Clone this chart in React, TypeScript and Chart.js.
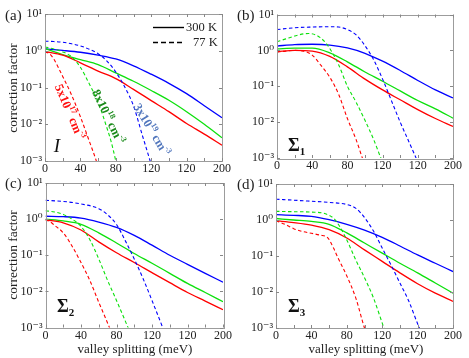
import React, { useEffect, useRef } from 'react';
import { Chart, registerables } from 'chart.js';

Chart.register(...registerables);

const W = 469;
const H = 358;
const FONT = "'Liberation Serif', 'DejaVu Serif', serif";

// ---------- axis ticks ----------
const xTickValues = [0, 40, 80, 120, 160, 200];
const xTickLabels = ['0', '40', '80', '120', '120', '200'];
const xMinorTicks = [0, 20, 40, 60, 80, 100, 120, 140, 160, 180, 200];
const yTickValues = [1e-3, 1e-2, 1e-1, 1, 10];
const yTickLabels = ['10\u207B\u00B3', '10\u207B\u00B2', '10\u207B\u00B9', '10\u2070', '10\u00B9'];

// ---------- data ----------
const solidX = [0, 20, 40, 60, 80, 100, 120, 140, 160, 180, 200];

// (a) I
const aSolidRed = [0.955, 0.76, 0.47, 0.28, 0.174, 0.089, 0.044, 0.022, 0.0105, 0.0054, 0.0027];
const aSolidGreen = [1.15, 0.79, 0.575, 0.42, 0.25, 0.148, 0.083, 0.045, 0.022, 0.01, 0.0043];
const aSolidBlue = [1.12, 1.02, 0.91, 0.76, 0.6, 0.39, 0.23, 0.13, 0.068, 0.032, 0.015];
const aDashRedX = [0, 5, 10, 20, 30, 40, 50, 58, 63];
const aDashRed = [0.93, 0.83, 0.59, 0.2, 0.063, 0.016, 0.0035, 0.001, 0.0004];
const aDashGreenX = [0, 10, 20, 30, 40, 50, 60, 70, 75, 80, 85];
const aDashGreen = [1.26, 1.12, 0.93, 0.69, 0.355, 0.126, 0.04, 0.0079, 0.0032, 0.001, 0.0003];
const aDashBlueX = [0, 10, 20, 30, 40, 50, 60, 70, 80, 90, 100, 110, 120, 125];
const aDashBlue = [1.82, 1.78, 1.7, 1.55, 1.35, 1.1, 0.83, 0.525, 0.263, 0.105, 0.0316, 0.005, 0.0008, 0.0003];

// (b) Σ1
const bSolidRed = [0.93, 1.0, 0.955, 0.68, 0.347, 0.158, 0.079, 0.042, 0.0224, 0.0126, 0.0076];
const bSolidGreen = [1.1, 1.15, 1.15, 0.85, 0.48, 0.25, 0.138, 0.074, 0.04, 0.0234, 0.0129];
const bSolidBlue = [1.32, 1.45, 1.48, 1.41, 1.17, 0.83, 0.5, 0.275, 0.145, 0.079, 0.047];
const bDashRedX = [0, 10, 20, 30, 40, 50, 60, 70, 80, 90, 97, 103];
const bDashRed = [0.89, 0.955, 1.0, 0.955, 0.74, 0.38, 0.178, 0.06, 0.0126, 0.0032, 0.001, 0.0004];
const bDashGreenX = [0, 10, 20, 30, 36, 45, 55, 63, 70, 80, 90, 100, 110, 118, 125];
const bDashGreen = [1.74, 2.09, 2.51, 2.88, 2.95, 2.63, 1.66, 0.85, 0.4, 0.1, 0.0355, 0.0112, 0.0032, 0.001, 0.0004];
const bDashBlueX = [0, 20, 40, 60, 70, 80, 90, 100, 110, 120, 130, 140, 150, 158, 165];
const bDashBlue = [3.8, 4.27, 4.47, 4.57, 4.47, 3.8, 2.69, 1.35, 0.537, 0.158, 0.0398, 0.01, 0.0028, 0.001, 0.0004];

// (c) Σ2
const cSolidRed = [0.955, 0.79, 0.5, 0.234, 0.117, 0.063, 0.033, 0.0174, 0.0093, 0.0054, 0.0031];
const cSolidGreen = [1.0, 0.89, 0.72, 0.417, 0.219, 0.112, 0.06, 0.0316, 0.0166, 0.0093, 0.0052];
const cSolidBlue = [1.2, 1.17, 1.07, 0.83, 0.59, 0.355, 0.19, 0.1, 0.056, 0.0316, 0.018];
const cDashRedX = [0, 5, 10, 20, 30, 40, 50, 60, 72, 78];
const cDashRed = [0.955, 0.85, 0.68, 0.417, 0.178, 0.063, 0.02, 0.005, 0.001, 0.0004];
const cDashGreenX = [0, 10, 20, 30, 40, 50, 60, 70, 80, 93, 100];
const cDashGreen = [1.7, 1.58, 1.35, 1.0, 0.63, 0.27, 0.079, 0.02, 0.0056, 0.001, 0.0004];
const cDashBlueX = [0, 20, 40, 60, 70, 80, 90, 100, 110, 120, 132, 140];
const cDashBlue = [3.31, 3.09, 2.63, 1.95, 1.32, 0.71, 0.25, 0.079, 0.0224, 0.0056, 0.001, 0.0003];

// (d) Σ3
const dSolidRed = [0.955, 0.85, 0.72, 0.537, 0.316, 0.148, 0.071, 0.034, 0.017, 0.0093, 0.0055];
const dSolidGreen = [1.1, 1.0, 0.91, 0.76, 0.437, 0.229, 0.12, 0.063, 0.034, 0.0178, 0.0093];
const dSolidBlue = [1.41, 1.35, 1.26, 1.02, 0.76, 0.525, 0.33, 0.19, 0.107, 0.063, 0.037];
const dDashRedX = [0, 10, 20, 30, 40, 50, 58, 65, 70, 80, 90, 100, 106];
const dDashRed = [0.955, 0.76, 0.575, 0.48, 0.427, 0.38, 0.33, 0.166, 0.089, 0.028, 0.007, 0.001, 0.0004];
const dDashGreenX = [0, 20, 40, 55, 65, 72, 80, 90, 100, 110, 122, 130];
const dDashGreen = [1.74, 1.7, 1.66, 1.51, 1.12, 0.66, 0.28, 0.079, 0.025, 0.007, 0.001, 0.0003];
const dDashBlueX = [0, 20, 40, 60, 80, 90, 100, 110, 120, 130, 140, 150, 162, 170];
const dDashBlue = [3.8, 3.55, 3.31, 3.09, 2.69, 2.14, 1.17, 0.5, 0.166, 0.056, 0.0178, 0.0056, 0.001, 0.0004];

// ---------- styling ----------
const RED = '#ff0000';
const GREEN = '#0ce00c';
const BLUE = '#0000ff';
const AXIS_COLOR = '#9c9c9c';
const TEXT_COLOR = '#222222';

type Seg = { t: string; sup?: boolean; sub?: boolean; size?: number };
type TextItem = {
  segs: Seg[];
  x: number;
  y: number;
  angle?: number;
  color?: string;
  size?: number;
  weight?: string;
  style?: string;
  align?: 'left' | 'center' | 'right';
};

function drawRich(ctx: CanvasRenderingContext2D, item: TextItem) {
  const size = item.size ?? 12;
  const weight = item.weight ?? 'normal';
  const style = item.style ?? 'normal';
  const align = item.align ?? 'center';
  const small = Math.round(size * 0.66);
  ctx.save();
  ctx.translate(item.x, item.y);
  ctx.rotate(((item.angle ?? 0) * Math.PI) / 180);
  ctx.fillStyle = item.color ?? TEXT_COLOR;
  ctx.textBaseline = 'middle';
  ctx.textAlign = 'left';
  const fontFor = (s: Seg) => `${style} ${weight} ${s.size ?? (s.sup || s.sub ? small : size)}px ${FONT}`;
  const widths = item.segs.map((s) => {
    ctx.font = fontFor(s);
    return ctx.measureText(s.t).width;
  });
  const total = widths.reduce((a, b) => a + b, 0);
  let cx = align === 'center' ? -total / 2 : align === 'right' ? -total : 0;
  item.segs.forEach((s, i) => {
    ctx.font = fontFor(s);
    const dy = s.sup ? -size * 0.35 : s.sub ? size * 0.32 : 0;
    ctx.fillText(s.t, cx, dy);
    cx += widths[i];
  });
  ctx.restore();
}

type Series = { xs: number[]; ys: number[]; color: string; dashed: boolean };
type PanelCfg = {
  area: { left: number; right: number; top: number; bottom: number };
  series: Series[];
  texts: TextItem[];
  legend?: boolean;
};

const Y_AXIS_W = 30;
const X_AXIS_H = 16;

const ylabel = (y: number): TextItem => ({ segs: [{ t: 'correction factor' }], x: 13.5, y, angle: -90, size: 13.5 });
const xlabel = (x: number): TextItem => ({ segs: [{ t: 'valley splitting (meV)' }], x, y: 350, size: 13 });
const sigma = (n: string, x: number, y: number): TextItem => ({
  segs: [{ t: '\u03A3' }, { t: n, sub: true, size: 11 }],
  x,
  y,
  size: 18,
  weight: 'bold',
  align: 'left',
  color: '#111',
});
const panelLabel = (t: string, x: number, y: number): TextItem => ({ segs: [{ t }], x, y, size: 15, align: 'left' });

const mk = (xs: number[], ys: number[], color: string, dashed: boolean): Series => ({ xs, ys, color, dashed });

const panels: PanelCfg[] = [
  {
    area: { left: 45, right: 222, top: 14, bottom: 161 },
    series: [
      mk(aDashRedX, aDashRed, RED, true),
      mk(aDashGreenX, aDashGreen, GREEN, true),
      mk(aDashBlueX, aDashBlue, BLUE, true),
      mk(solidX, aSolidRed, RED, false),
      mk(solidX, aSolidGreen, GREEN, false),
      mk(solidX, aSolidBlue, BLUE, false),
    ],
    legend: true,
    texts: [
      panelLabel('(a)', 5, 16),
      ylabel(88),
      { segs: [{ t: 'I' }], x: 57, y: 147, size: 19, style: 'italic', color: '#111' },
      {
        segs: [{ t: '5x10' }, { t: '17', sup: true }, { t: ' cm' }, { t: '-3', sup: true }],
        x: 69,
        y: 112,
        angle: 67,
        size: 12.5,
        weight: 'bold',
        color: '#ff1010',
      },
      {
        segs: [{ t: '8x10' }, { t: '18', sup: true }, { t: ' cm' }, { t: '-3', sup: true }],
        x: 107.5,
        y: 117,
        angle: 64,
        size: 12.5,
        weight: 'bold',
        color: '#1a8a1a',
      },
      {
        segs: [{ t: '3x10' }, { t: '19', sup: true }, { t: ' cm' }, { t: '-3', sup: true }],
        x: 151,
        y: 130,
        angle: 59,
        size: 12.5,
        weight: 'bold',
        color: '#5277bd',
      },
    ],
  },
  {
    area: { left: 277, right: 453, top: 14.5, bottom: 158 },
    series: [
      mk(bDashRedX, bDashRed, RED, true),
      mk(bDashGreenX, bDashGreen, GREEN, true),
      mk(bDashBlueX, bDashBlue, BLUE, true),
      mk(solidX, bSolidRed, RED, false),
      mk(solidX, bSolidGreen, GREEN, false),
      mk(solidX, bSolidBlue, BLUE, false),
    ],
    texts: [panelLabel('(b)', 237, 16), sigma('1', 288, 146)],
  },
  {
    area: { left: 45.5, right: 223, top: 183, bottom: 327.5 },
    series: [
      mk(cDashRedX, cDashRed, RED, true),
      mk(cDashGreenX, cDashGreen, GREEN, true),
      mk(cDashBlueX, cDashBlue, BLUE, true),
      mk(solidX, cSolidRed, RED, false),
      mk(solidX, cSolidGreen, GREEN, false),
      mk(solidX, cSolidBlue, BLUE, false),
    ],
    texts: [panelLabel('(c)', 5, 184), ylabel(255), sigma('2', 57, 307), xlabel(135)],
  },
  {
    area: { left: 276, right: 453, top: 184, bottom: 328 },
    series: [
      mk(dDashRedX, dDashRed, RED, true),
      mk(dDashGreenX, dDashGreen, GREEN, true),
      mk(dDashBlueX, dDashBlue, BLUE, true),
      mk(solidX, dSolidRed, RED, false),
      mk(solidX, dSolidGreen, GREEN, false),
      mk(solidX, dSolidBlue, BLUE, false),
    ],
    texts: [panelLabel('(d)', 237, 185), sigma('3', 288, 307), xlabel(366)],
  },
];

function makeDecoPlugin(cfg: PanelCfg) {
  return {
    id: 'deco',
    afterDatasetsDraw(chart: any) {
      const ctx: CanvasRenderingContext2D = chart.ctx;
      const { left, right, top, bottom } = chart.chartArea;
      const xs = chart.scales.x;
      const ys = chart.scales.y;
      ctx.save();
      ctx.strokeStyle = AXIS_COLOR;
      ctx.lineWidth = 1;
      ctx.strokeRect(Math.round(left) + 0.5, Math.round(top) + 0.5, Math.round(right - left), Math.round(bottom - top));
      ctx.strokeStyle = '#888';
      ctx.beginPath();
      xMinorTicks.forEach((v) => {
        const px = Math.round(xs.getPixelForValue(v)) + 0.5;
        ctx.moveTo(px, bottom);
        ctx.lineTo(px, bottom - 3);
        ctx.moveTo(px, top);
        ctx.lineTo(px, top + 3);
      });
      yTickValues.forEach((v) => {
        const py = Math.round(ys.getPixelForValue(v)) + 0.5;
        ctx.moveTo(left, py);
        ctx.lineTo(left + 3, py);
        ctx.moveTo(right, py);
        ctx.lineTo(right - 3, py);
      });
      ctx.stroke();
      ctx.restore();

      if (cfg.legend) {
        ctx.save();
        ctx.strokeStyle = '#000';
        ctx.lineWidth = 1.4;
        ctx.beginPath();
        ctx.moveTo(153, 27.5);
        ctx.lineTo(184, 27.5);
        ctx.stroke();
        ctx.setLineDash([5, 3]);
        ctx.beginPath();
        ctx.moveTo(153, 42.5);
        ctx.lineTo(184, 42.5);
        ctx.stroke();
        ctx.restore();
        drawRich(ctx, { segs: [{ t: '300 K' }], x: 186, y: 27.5, size: 12.5, align: 'left' });
        drawRich(ctx, { segs: [{ t: '77 K' }], x: 193, y: 42.5, size: 12.5, align: 'left' });
      }
      cfg.texts.forEach((t) => drawRich(ctx, t));
    },
  };
}

function Panel({ cfg }: { cfg: PanelCfg }) {
  const ref = useRef<HTMLCanvasElement>(null);
  useEffect(() => {
    const canvas = ref.current;
    if (!canvas) return;
    const { area } = cfg;
    const chart = new Chart(canvas, {
      type: 'line',
      data: {
        datasets: cfg.series.map((s) => ({
          data: s.xs.map((x, i) => ({ x, y: s.ys[i] })),
          borderColor: s.color,
          borderWidth: s.dashed ? 1.1 : 1.3,
          borderDash: s.dashed ? [3.5, 2.5] : [],
          pointRadius: 0,
          fill: false,
          cubicInterpolationMode: 'monotone' as const,
        })),
      },
      options: {
        responsive: false,
        animation: false,
        devicePixelRatio: 1,
        layout: {
          padding: {
            left: area.left - Y_AXIS_W,
            right: W - area.right,
            top: area.top,
            bottom: H - area.bottom - X_AXIS_H,
          },
        },
        plugins: { legend: { display: false }, tooltip: { enabled: false } },
        scales: {
          x: {
            type: 'linear',
            min: 0,
            max: 200,
            afterBuildTicks: (s: any) => {
              s.ticks = xTickValues.map((v) => ({ value: v }));
            },
            afterFit: (s: any) => {
              s.height = X_AXIS_H;
            },
            grid: { display: false, drawTicks: false },
            border: { display: false },
            ticks: {
              autoSkip: false,
              maxRotation: 0,
              padding: 1,
              color: TEXT_COLOR,
              font: { family: FONT, size: 12 },
              callback: (_v: any, i: number) => xTickLabels[i],
            },
          },
          y: {
            type: 'logarithmic',
            min: 1e-3,
            max: 10,
            afterBuildTicks: (s: any) => {
              s.ticks = yTickValues.map((v) => ({ value: v }));
            },
            afterFit: (s: any) => {
              s.width = Y_AXIS_W;
            },
            grid: { display: false, drawTicks: false },
            border: { display: false },
            ticks: {
              autoSkip: false,
              padding: 3,
              color: TEXT_COLOR,
              font: { family: FONT, size: 12 },
              callback: (_v: any, i: number) => yTickLabels[i],
            },
          },
        },
      },
      plugins: [makeDecoPlugin(cfg)],
    } as any);
    return () => chart.destroy();
  }, [cfg]);
  return (
    <canvas
      ref={ref}
      width={W}
      height={H}
      style={{ position: 'absolute', left: 0, top: 0, width: W, height: H }}
    />
  );
}

export default function App() {
  return (
    <div style={{ position: 'fixed', left: 0, top: 0, width: W, height: H, background: '#fff', overflow: 'hidden' }}>
      {panels.map((p, i) => (
        <Panel key={i} cfg={p} />
      ))}
    </div>
  );
}
